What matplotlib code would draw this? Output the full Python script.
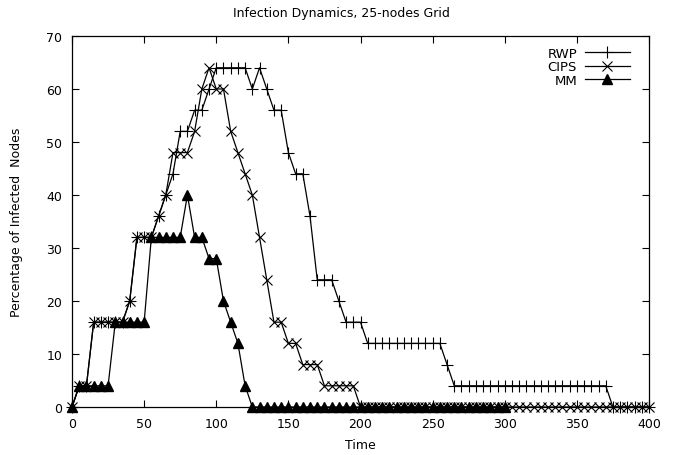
import matplotlib
matplotlib.use("Agg")
import matplotlib.pyplot as plt

# RWP
rwp_t = [0, 5, 10, 15, 20, 25, 30, 35, 40, 45, 50, 55, 60, 65, 70, 75, 80,
         85, 90, 95, 100, 105, 110, 115, 120, 125, 130, 135, 140, 145, 150,
         155, 160, 165, 170, 175, 180, 185, 190, 195, 200]
rwp_v = [0, 4, 4, 16, 16, 16, 16, 16, 20, 32, 32, 32, 36, 40, 44, 52, 52,
         56, 56, 60, 64, 64, 64, 64, 64, 60, 64, 60, 56, 56, 48,
         44, 44, 36, 24, 24, 24, 20, 16, 16, 16]
rwp_t += list(range(205, 260, 5)) + [260] + list(range(265, 375, 5)) + list(range(375, 405, 5))
rwp_v += [12] * 11 + [8] + [4] * 22 + [0] * 6

# CIPS
cips_t = [0, 5, 10, 15, 20, 25, 30, 35, 40, 45, 50, 55, 60, 65, 70, 75, 80,
          85, 90, 95, 100, 105, 110, 115, 120, 125, 130, 135, 140, 145, 150,
          155, 160, 165, 170, 175, 180, 185, 190, 195]
cips_v = [0, 4, 4, 16, 16, 16, 16, 16, 20, 32, 32, 32, 36, 40, 48, 48, 48,
          52, 60, 64, 60, 60, 52, 48, 44, 40, 32, 24, 16, 16, 12,
          12, 8, 8, 8, 4, 4, 4, 4, 4]
cips_t += list(range(200, 405, 5))
cips_v += [0] * 41

# MM
mm_t = [0, 5, 10, 15, 20, 25, 30, 35, 40, 45, 50, 55, 60, 65, 70, 75, 80,
        85, 90, 95, 100, 105, 110, 115, 120]
mm_v = [0, 4, 4, 4, 4, 4, 16, 16, 16, 16, 16, 32, 32, 32, 32, 32, 40,
        32, 32, 28, 28, 20, 16, 12, 4]
mm_t += list(range(125, 305, 5))
mm_v += [0] * 36

plt.rcParams["font.family"] = "DejaVu Sans"
fig = plt.figure(figsize=(6.82, 4.56), dpi=100)
ax = fig.add_axes([0.1056, 0.1053, 0.8460, 0.8136])

ax.plot(rwp_t, rwp_v, color="black", lw=0.9, marker="+", ms=8, mew=0.8,
        label="RWP", clip_on=False, zorder=3)
ax.plot(cips_t, cips_v, color="black", lw=0.9, marker="x", ms=7, mew=0.8,
        label="CIPS", clip_on=False, zorder=3)
ax.plot(mm_t, mm_v, color="black", lw=0.9, marker="^", ms=6.5, mfc="black",
        label="MM", clip_on=False, zorder=3)

ax.set_xlim(0, 400)
ax.set_ylim(0, 70)
ax.set_xticks(range(0, 401, 50))
ax.set_yticks(range(0, 71, 10))
ax.tick_params(direction="in", top=True, right=True, labelsize=9, length=5, width=0.8)
ax.tick_params(axis="x", pad=7)
ax.tick_params(axis="y", pad=7)
for s in ax.spines.values():
    s.set_linewidth(0.9)

ax.set_xlabel("Time", fontsize=9, labelpad=6)
ax.set_ylabel("Percentage of Infected  Nodes", fontsize=9, labelpad=17)
fig.text(0.5, 1 - 13 / 456, "Infection Dynamics, 25-nodes Grid", fontsize=9,
         ha="center", va="center")

ax.legend(loc="upper right", bbox_to_anchor=(0.985, 1.0), frameon=False,
          markerfirst=False, numpoints=1, fontsize=9.5, handlelength=3.4,
          handletextpad=0.6, labelspacing=0.05, borderaxespad=0.4)

fig.savefig("out.png", dpi=100)
